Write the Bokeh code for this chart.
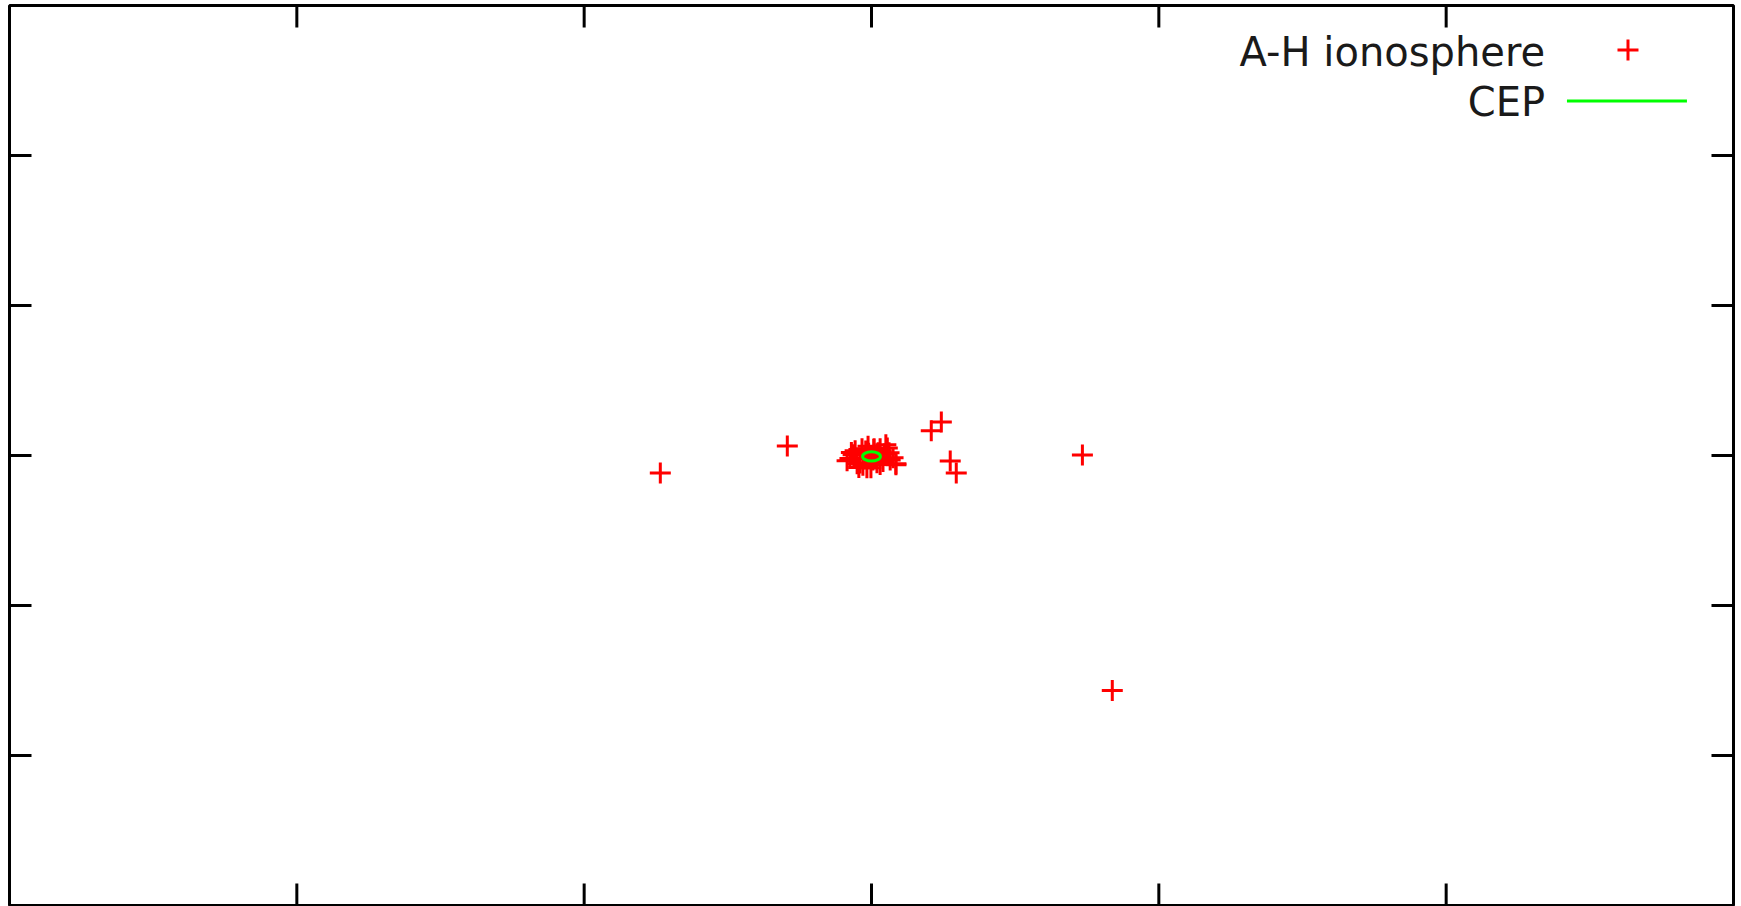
from bokeh.plotting import figure
from bokeh.models import Range1d
from bokeh.core.properties import value
from bokeh.embed import file_html
from bokeh.resources import INLINE

# ---- data ----
outlier_x = [-0.735, -0.293, 0.208, 0.243, 0.274, 0.295, 0.734, 0.838]
outlier_y = [-0.117, 0.063, 0.165, 0.223, -0.037, -0.117, 0.003, -1.566]

cluster_x = [-0.012, 0.050, -0.033, 0.009, 0.030, -0.085, -0.064, 0.085, 0.075, -0.044,
             -0.016, -0.002, 0.040, -0.057, 0.023, -0.026, 0.019, 0.061, -0.075, 0.000,
             0.012, -0.010, 0.005, -0.040, 0.045, -0.020, 0.065, 0.030, -0.050, 0.008,
             0.085, -0.070, 0.055, -0.030]
cluster_y = [0.062, 0.072, 0.045, 0.045, 0.045, -0.035, 0.005, -0.055, -0.015, -0.080,
             -0.082, -0.082, -0.040, 0.032, 0.018, -0.022, -0.048, 0.018, -0.020, 0.000,
             -0.010, 0.015, -0.030, -0.050, 0.010, 0.030, -0.030, -0.060, -0.055, 0.040,
             -0.061, 0.020, 0.050, -0.065]

points_x = outlier_x + cluster_x
points_y = outlier_y + cluster_y

cep_center_x = 0.0
cep_center_y = -0.006
cep_radius = 0.031

x_ticks = [-2, -1, 0, 1, 2]
y_ticks = [-2, -1, 0, 1, 2]
x_lim = (-3, 3)
y_lim = (-3, 3)

series_labels = ["A-H ionosphere", "CEP"]
RED = "#ff0000"
GREEN = "#00ff00"
FONT = "DejaVu Sans"

# ---- layout ----
FRAME_W, FRAME_H = 1724, 900
B_LEFT, B_TOP, B_RIGHT, B_BOTTOM = 9, 5, 4, 1
TICK_PX = 22

p = figure(width=B_LEFT + FRAME_W + B_RIGHT, height=B_TOP + FRAME_H + B_BOTTOM,
           x_range=Range1d(*x_lim), y_range=Range1d(*y_lim),
           x_axis_location=None, y_axis_location=None,
           output_backend="svg", toolbar_location=None,
           min_border_left=B_LEFT, min_border_top=B_TOP,
           min_border_right=B_RIGHT, min_border_bottom=B_BOTTOM)
p.grid.visible = False
p.outline_line_color = "black"
p.outline_line_width = 3
p.background_fill_color = "white"
p.border_fill_color = "white"

# mirrored inward ticks (gnuplot style, no labels)
tlx = TICK_PX / FRAME_W * (x_lim[1] - x_lim[0])
tly = TICK_PX / FRAME_H * (y_lim[1] - y_lim[0])
p.segment(x0=x_ticks, x1=x_ticks, y0=[y_lim[0]] * len(x_ticks), y1=[y_lim[0] + tly] * len(x_ticks),
          line_color="black", line_width=3)
p.segment(x0=x_ticks, x1=x_ticks, y0=[y_lim[1]] * len(x_ticks), y1=[y_lim[1] - tly] * len(x_ticks),
          line_color="black", line_width=3)
p.segment(x0=[x_lim[0]] * len(y_ticks), x1=[x_lim[0] + tlx] * len(y_ticks), y0=y_ticks, y1=y_ticks,
          line_color="black", line_width=3)
p.segment(x0=[x_lim[1]] * len(y_ticks), x1=[x_lim[1] - tlx] * len(y_ticks), y0=y_ticks, y1=y_ticks,
          line_color="black", line_width=3)

# data marks
p.scatter(points_x, points_y, marker="cross", size=21, line_width=3, line_color=RED)
p.ellipse(x=[cep_center_x], y=[cep_center_y], width=[2 * cep_radius], height=[2 * cep_radius],
          fill_color=None, line_color=GREEN, line_width=3)

# legend (gnuplot style: text right-aligned, sample to the right), positioned as frame fractions
def fx(f):
    return x_lim[0] + f * (x_lim[1] - x_lim[0])

def fy(f):
    return y_lim[1] - f * (y_lim[1] - y_lim[0])

p.text(x=[fx(0.8907)] * 2, y=[fy(0.0513), fy(0.1069)], text=series_labels,
       text_align="right", text_baseline="alphabetic", text_font=value(FONT),
       text_font_size="40px", text_color="#1a1a1a")
p.scatter([fx(0.9388)], [fy(0.0495)], marker="cross", size=21, line_width=3, line_color=RED)
p.line([fx(0.9034), fx(0.9730)], [fy(0.1062), fy(0.1062)], line_color=GREEN, line_width=3)

open("out.html", "w").write(file_html(p, INLINE))
